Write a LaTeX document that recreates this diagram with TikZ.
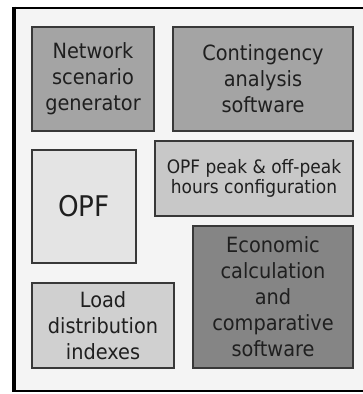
\documentclass[tikz,border=0pt]{standalone}
\usepackage{fontspec}
\setmainfont{DejaVu Sans}[FakeStretch=0.92]

\definecolor{panel}{HTML}{F4F4F4}
\definecolor{toolgray}{HTML}{A4A4A4}
\definecolor{opfgray}{HTML}{E4E4E4}
\definecolor{confgray}{HTML}{C8C8C8}
\definecolor{loadgray}{HTML}{D0D0D0}
\definecolor{econgray}{HTML}{858585}

\tikzset{
  block/.style={draw=black!78, line width=1.6pt, inner sep=0pt,
    align=center, text=black!88, font=\fontsize{21}{26}\selectfont},
  small/.style={font=\fontsize{18.5}{20}\selectfont},
}

\begin{document}
\begin{tikzpicture}[x=1pt,y=-1pt]
  \useasboundingbox (0,0) rectangle (363,394);
  \clip (0,0) rectangle (363,394);
  % outer panel, its right side runs off the page
  \draw[line width=2.6pt, fill=panel] (14,8) rectangle (380,391);
  \draw[line width=4pt] (14,6.7) -- (14,392.3);

  \node[block, fill=toolgray, minimum width=122, minimum height=104]
    (net) at (93,79) {Network\\scenario\\generator};
  \node[block, fill=toolgray, minimum width=180, minimum height=104]
    (cont) at (263,79) {Contingency\\analysis\\software};
  \node[block, fill=opfgray, minimum width=104, minimum height=113,
    font=\fontsize{28.5}{30}\selectfont]
    (opf) at (84,206.5) {OPF};
  \node[block, small, fill=confgray, minimum width=198, minimum height=75]
    (peak) at (254,178.5) {OPF peak \& off-peak\\hours configuration};
  \node[block, fill=econgray, minimum width=160, minimum height=142]
    (econ) at (273,297) {Economic\\calculation\\and\\comparative\\software};
  \node[block, fill=loadgray, minimum width=142, minimum height=85]
    (load) at (103,325.5) {Load\\distribution\\indexes};
\end{tikzpicture}
\end{document}
